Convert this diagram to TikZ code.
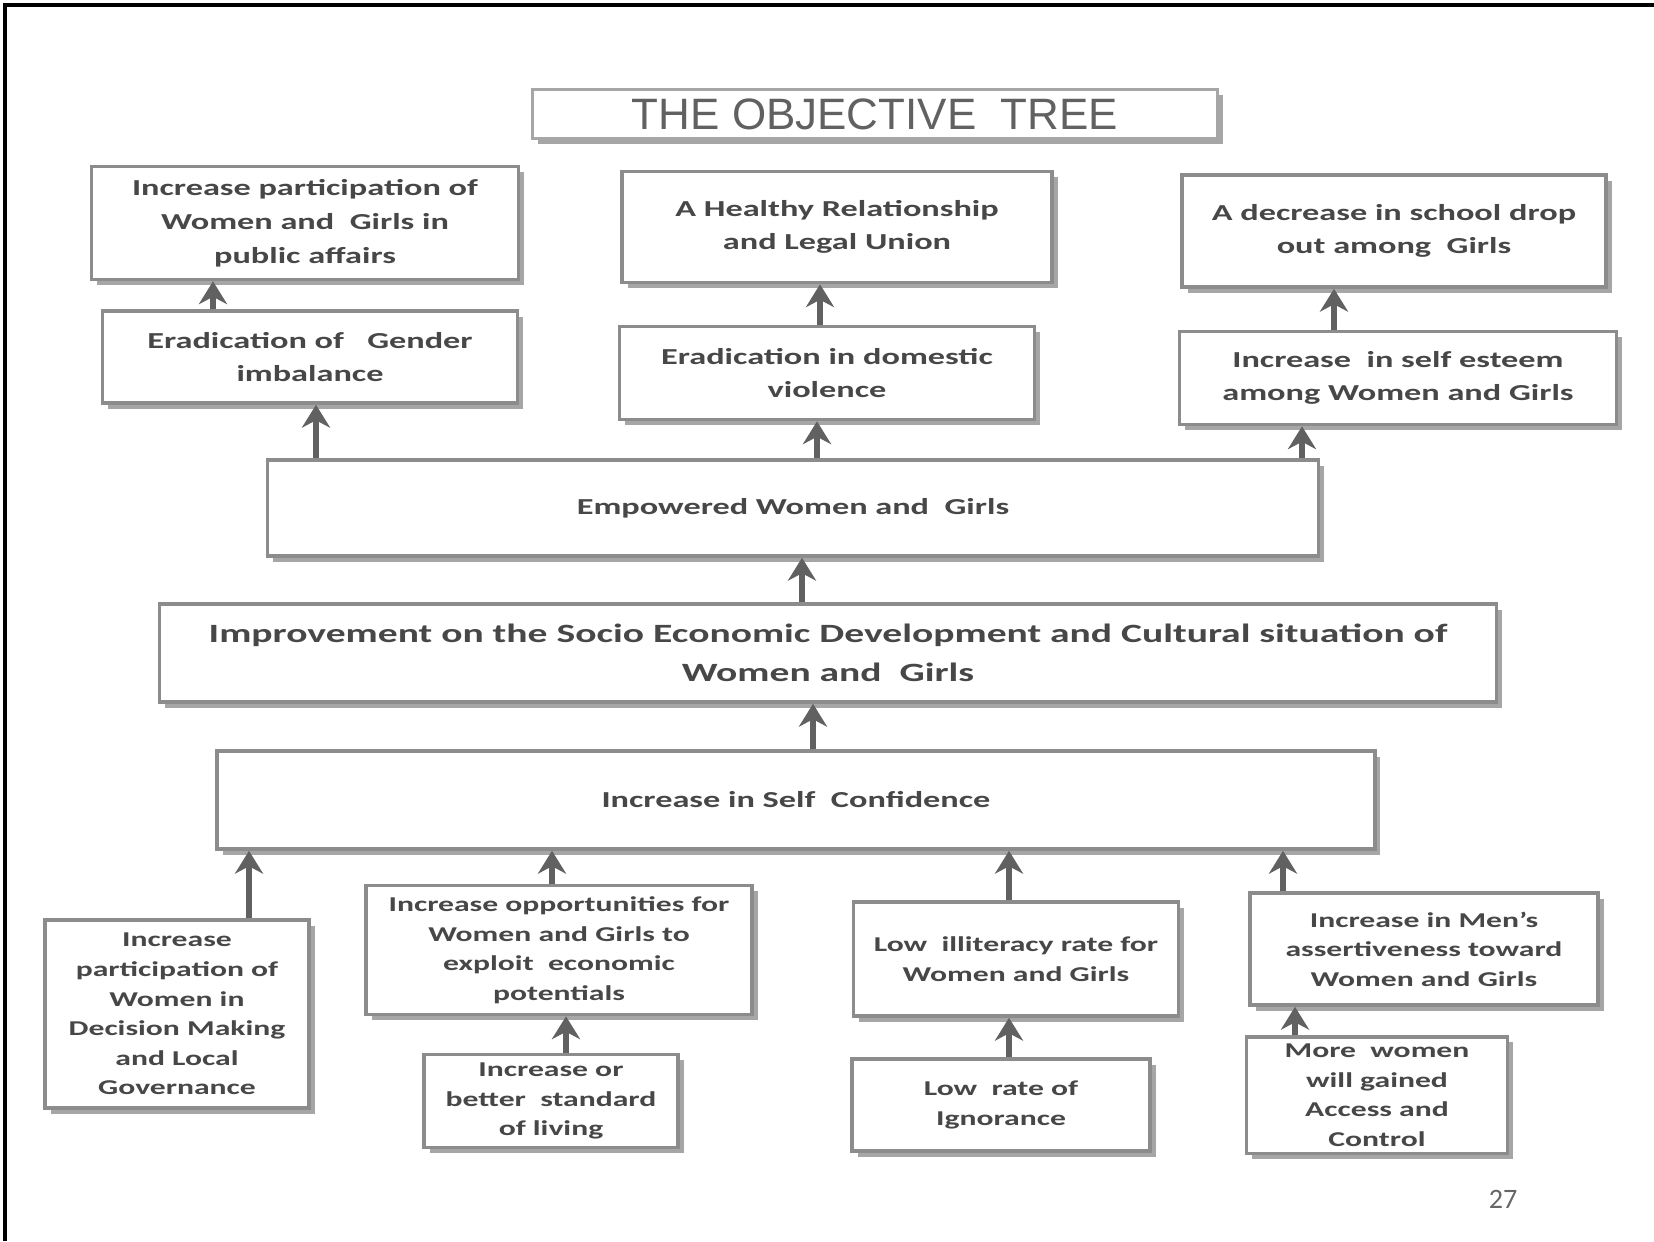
\documentclass[tikz,border=0pt]{standalone}
\usepackage{fontspec}
\newfontfamily\boxfont[FakeStretch=1.5]{Carlito}
\newfontfamily\pgfont{Carlito}
\newfontfamily\titlefont{Liberation Sans}
\usetikzlibrary{arrows.meta, shadows, positioning}

\begin{document}
\begin{tikzpicture}[x=0.01cm, y=-0.01cm,
	obj/.style={draw=black!45, line width=1pt, fill=white, align=center, inner sep=2pt,
		text=black!72, font=\boxfont\bfseries\fontsize{6.5}{9.6}\selectfont,
		drop shadow={shadow xshift=1.6pt, shadow yshift=-1.6pt, fill=black!35, opacity=1}},
	small/.style={font=\boxfont\bfseries\fontsize{6}{8.4}\selectfont},
	uparrow/.style={draw=black!62, line width=1.6pt, -{Stealth[length=6.5pt, width=8pt]}}
	]
	\useasboundingbox (0,0) rectangle (1654,1241);
	\draw[line width=1.1pt] (5,1241) -- (5,5) -- (1654,5);

	\node[obj, minimum width=6.85cm, minimum height=0.49cm, draw=black!35,
		font=\titlefont\fontsize{12.5}{14}\selectfont, text=black!62] (title) at (875,114) {THE OBJECTIVE\ \ TREE};

	\node[obj, minimum width=4.27cm, minimum height=1.13cm] (inc) at (305,223) {Increase participation of\\Women and\ \ Girls in\\public affairs};
	\node[obj, minimum width=4.30cm, minimum height=1.11cm] (heal) at (837,227) {A Healthy Relationship\\and Legal Union};
	\node[obj, minimum width=4.24cm, minimum height=1.12cm] (drop) at (1394,231) {A decrease in school drop\\out among\ \ Girls};

	\node[obj, minimum width=4.15cm, minimum height=0.92cm] (gend) at (310,357) {Eradication of\ \ \ Gender\\imbalance};
	\node[obj, minimum width=4.15cm, minimum height=0.93cm] (dom) at (827,373) {Eradication in domestic\\violence};
	\node[obj, minimum width=4.37cm, minimum height=0.93cm] (est) at (1398,378) {Increase\ \ in self esteem\\among Women and Girls};

	\node[obj, minimum width=10.50cm, minimum height=0.96cm] (emp) at (793,508) {Empowered Women and\ \ Girls};
	\node[obj, minimum width=13.36cm, minimum height=0.98cm, font=\boxfont\bfseries\fontsize{7.5}{11}\selectfont] (soc) at (828,653)
		{Improvement on the Socio Economic Development and Cultural situation of\\Women and\ \ Girls};
	\node[obj, minimum width=11.57cm, minimum height=0.98cm] (conf) at (796,800) {Increase in Self\ \ Confidence};

	\node[obj, small, minimum width=2.64cm, minimum height=1.88cm] (dec) at (177,1014) {Increase\\participation of\\Women in\\Decision Making\\and Local\\Governance};
	\node[obj, small, minimum width=3.86cm, minimum height=1.29cm] (opp) at (559,950) {Increase opportunities for\\Women and Girls to\\exploit\ \ economic\\potentials};
	\node[obj, small, minimum width=2.54cm, minimum height=0.93cm] (liv) at (551,1101) {Increase or\\better\ \ standard\\of living};
	\node[obj, small, minimum width=3.25cm, minimum height=1.14cm] (lit) at (1016,959) {Low\ \ illiteracy rate for\\Women and Girls};
	\node[obj, small, minimum width=2.98cm, minimum height=0.92cm] (ign) at (1001,1105) {Low\ \ rate of\\Ignorance};
	\node[obj, small, minimum width=3.48cm, minimum height=1.12cm] (men) at (1424,949) {Increase in Men’s\\assertiveness toward\\Women and Girls};
	\node[obj, small, minimum width=2.61cm, minimum height=1.16cm] (acc) at (1377,1095) {More\ \ women\\will gained\\Access and\\Control};

	\node[text=black!60, font=\pgfont\fontsize{8}{9}\selectfont] (pg) at (1503,1199) {27};

	\draw[uparrow] (gend.north -| 213,0) -- (inc.south -| 213,0);
	\draw[uparrow] (emp.north -| 316,0) -- (gend.south -| 316,0);
	\draw[uparrow] (dom.north -| 820,0) -- (heal.south -| 820,0);
	\draw[uparrow] (emp.north -| 817,0) -- (dom.south -| 817,0);
	\draw[uparrow] (est.north -| 1334,0) -- (drop.south -| 1334,0);
	\draw[uparrow] (emp.north -| 1302,0) -- (est.south -| 1302,0);
	\draw[uparrow] (soc.north -| 802,0) -- (emp.south -| 802,0);
	\draw[uparrow] (conf.north -| 813,0) -- (soc.south -| 813,0);
	\draw[uparrow] (dec.north -| 249,0) -- (conf.south -| 249,0);
	\draw[uparrow] (opp.north -| 552,0) -- (conf.south -| 552,0);
	\draw[uparrow] (lit.north -| 1009,0) -- (conf.south -| 1009,0);
	\draw[uparrow] (men.north -| 1283,0) -- (conf.south -| 1283,0);
	\draw[uparrow] (liv.north -| 566,0) -- (opp.south -| 566,0);
	\draw[uparrow] (ign.north -| 1009,0) -- (lit.south -| 1009,0);
	\draw[uparrow] (acc.north -| 1295,0) -- (men.south -| 1295,0);
\end{tikzpicture}
\end{document}
